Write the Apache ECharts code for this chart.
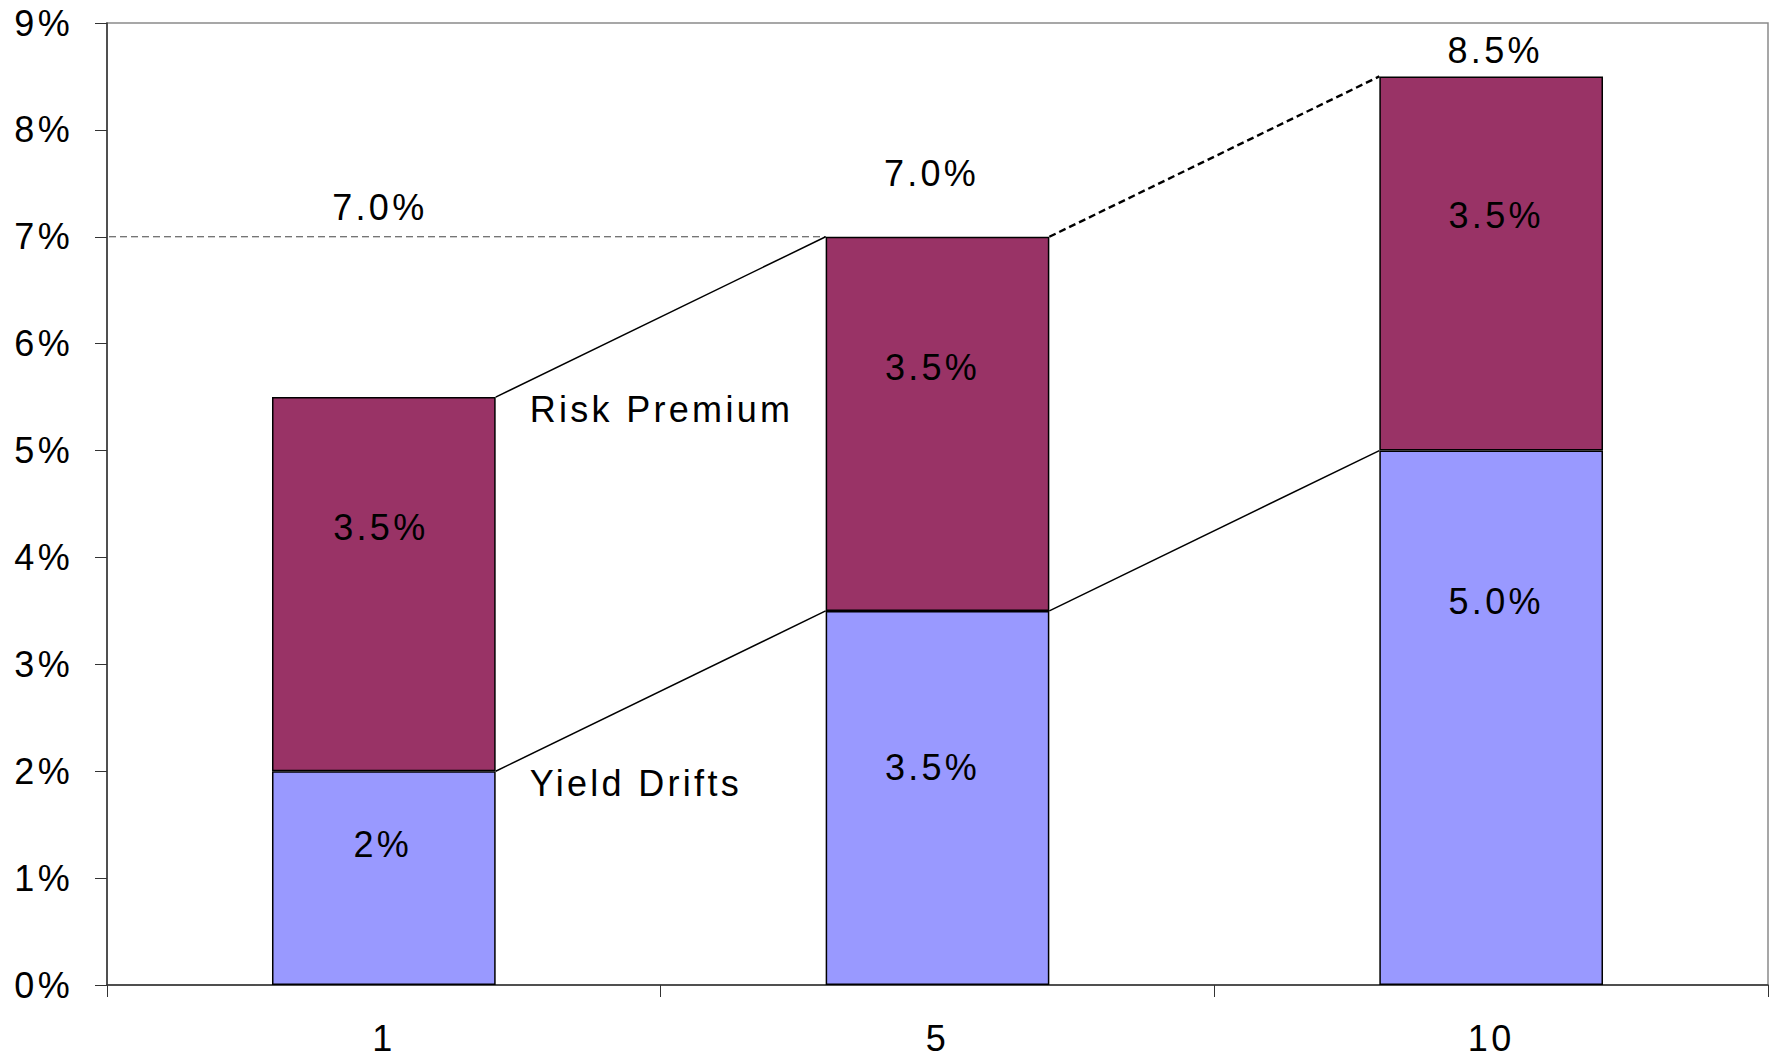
<!DOCTYPE html>
<html>
<head>
<meta charset="utf-8">
<script src="https://cdn.jsdelivr.net/npm/echarts@6/dist/echarts.min.js"></script>
<style>
  html, body { margin: 0; padding: 0; background: #fff; }
  #chart { width: 1771px; height: 1060px; }
  /* airy Helvetica-style tracking for every chart text */
  #chart text { letter-spacing: 3.3px; }
</style>
</head>
<body>
<div id="chart"></div>
<script>
// Horizon buckets (years) and the two return components, in percent
const categories = ['1', '5', '10'];
const yieldDrifts = [2.0, 3.5, 5.0];
const riskPremium = [3.5, 3.5, 3.5];
const yieldDecimals = [0, 1, 1];
const referenceLevel = 7.0;
const yMax = 9;
const yStep = 1;

const totals = yieldDrifts.map((v, i) => v + riskPremium[i]);

const FONT = "'Liberation Sans', Arial, Helvetica, sans-serif";
const FS = 36;
const BAR_FRACTION = 0.404;
const RISK_COLOR = '#993366';
const YIELD_COLOR = '#9999FF';

// nudges [dx, dy] for the in-bar value labels (px)
const riskLabelShift = [[-3, -57], [-5, -56], [5, -48]];
const yieldLabelShift = [[-1, -34], [-5, -30], [5, -116]];
// headline labels: horizontal nudge and lift above their level (px)
const headlineShift = [-4, -6, 4];
const headlineLift = [29, 63, 26];

function halfBar(api) {
  return api.size([1, 0])[0] * BAR_FRACTION / 2;
}

// segment joining the right edge of one bar to the left edge of the next
function linkRenderer(lineStyle) {
  return function (params, api) {
    const a = api.coord([api.value(0), api.value(1)]);
    const b = api.coord([api.value(2), api.value(3)]);
    const h = halfBar(api);
    return {
      type: 'line',
      shape: { x1: a[0] + h, y1: a[1], x2: b[0] - h, y2: b[1] },
      style: Object.assign({ fill: null }, lineStyle)
    };
  };
}

const chart = echarts.init(document.getElementById('chart'), null, { renderer: 'svg' });

const option = {
  animation: false,
  backgroundColor: '#ffffff',
  textStyle: { fontFamily: FONT },
  grid: {
    left: 107, right: 3, top: 23, bottom: 75,
    show: true, borderColor: '#8a8a8a', borderWidth: 1.5, backgroundColor: 'transparent'
  },
  xAxis: {
    type: 'category',
    data: categories,
    boundaryGap: true,
    axisLine: { lineStyle: { color: '#333', width: 1.5 } },
    axisTick: { show: true, alignWithLabel: false, length: 12, lineStyle: { color: '#333', width: 1 } },
    axisLabel: { color: '#000', fontSize: FS, fontFamily: FONT, margin: 39, lineHeight: 29 },
    splitLine: { show: false }
  },
  yAxis: {
    type: 'value',
    min: 0, max: yMax, interval: yStep,
    axisLine: { show: true, lineStyle: { color: '#333', width: 1.5 } },
    axisTick: { show: true, length: 12, lineStyle: { color: '#333', width: 1 } },
    axisLabel: {
      color: '#000', fontSize: FS, fontFamily: FONT, margin: 34,
      padding: [7, 0, 0, 0], formatter: v => v + '%'
    },
    splitLine: { show: false }
  },
  series: [
    {
      name: 'Yield Drifts',
      type: 'bar',
      stack: 'ret',
      barWidth: (BAR_FRACTION * 100) + '%',
      data: yieldDrifts.map((v, i) => ({
        value: v,
        label: { offset: yieldLabelShift[i] }
      })),
      itemStyle: { color: YIELD_COLOR, borderColor: '#000', borderWidth: 1.5 },
      label: {
        show: true, position: 'inside', color: '#000', fontSize: FS, fontFamily: FONT,
        formatter: p => p.value.toFixed(yieldDecimals[p.dataIndex]) + '%'
      },
      z: 2
    },
    {
      name: 'Risk Premium',
      type: 'bar',
      stack: 'ret',
      barWidth: (BAR_FRACTION * 100) + '%',
      data: riskPremium.map((v, i) => ({
        value: v,
        label: { offset: riskLabelShift[i] }
      })),
      itemStyle: { color: RISK_COLOR, borderColor: '#000', borderWidth: 1.5 },
      label: {
        show: true, position: 'inside', color: '#000', fontSize: FS, fontFamily: FONT,
        formatter: p => p.value.toFixed(1) + '%'
      },
      z: 2
    },
    // dashed reference at the 7% level, from the axis to the middle bar
    {
      type: 'custom',
      clip: false,
      z: 3,
      data: [[1, referenceLevel]],
      encode: { x: 0, y: 1 },
      renderItem: function (params, api) {
        const b = api.coord([api.value(0), api.value(1)]);
        return {
          type: 'line',
          shape: { x1: params.coordSys.x + 2, y1: b[1], x2: b[0] - halfBar(api), y2: b[1] },
          style: { stroke: '#444', lineWidth: 1, lineDash: [7, 4], fill: null }
        };
      }
    },
    // solid links between component boundaries
    {
      type: 'custom',
      clip: false,
      z: 3,
      data: [
        [0, totals[0], 1, totals[1]],
        [0, yieldDrifts[0], 1, yieldDrifts[1]],
        [1, yieldDrifts[1], 2, yieldDrifts[2]]
      ],
      encode: { x: 0, y: 1 },
      renderItem: linkRenderer({ stroke: '#000', lineWidth: 1.5 })
    },
    // dashed link between the two longer-horizon totals
    {
      type: 'custom',
      clip: false,
      z: 3,
      data: [[1, totals[1], 2, totals[2]]],
      encode: { x: 0, y: 1 },
      renderItem: linkRenderer({ stroke: '#000', lineWidth: 2.4, lineDash: [7, 4] })
    },
    // headline levels above each bar
    {
      type: 'custom',
      clip: false,
      z: 4,
      data: [[0, referenceLevel], [1, totals[1]], [2, totals[2]]],
      encode: { x: 0, y: 1 },
      renderItem: function (params, api) {
        const p = api.coord([api.value(0), api.value(1)]);
        return {
          type: 'text',
          x: p[0] + headlineShift[params.dataIndex],
          y: p[1] - headlineLift[params.dataIndex],
          style: {
            text: api.value(1).toFixed(1) + '%',
            fill: '#000', font: FS + 'px ' + FONT,
            align: 'center', verticalAlign: 'middle'
          }
        };
      }
    },
    // component captions beside the first bar
    {
      type: 'custom',
      clip: false,
      z: 4,
      data: [[0, totals[0]], [0, yieldDrifts[0]]],
      encode: { x: 0, y: 1 },
      renderItem: function (params, api) {
        const names = ['Risk Premium', 'Yield Drifts'];
        const p = api.coord([api.value(0), api.value(1)]);
        return {
          type: 'text',
          x: p[0] + halfBar(api) + 34,
          y: p[1] + 12,
          style: {
            text: names[params.dataIndex],
            fill: '#000', font: FS + 'px ' + FONT,
            align: 'left', verticalAlign: 'middle'
          }
        };
      }
    }
  ]
};

chart.setOption(option);
</script>
</body>
</html>
